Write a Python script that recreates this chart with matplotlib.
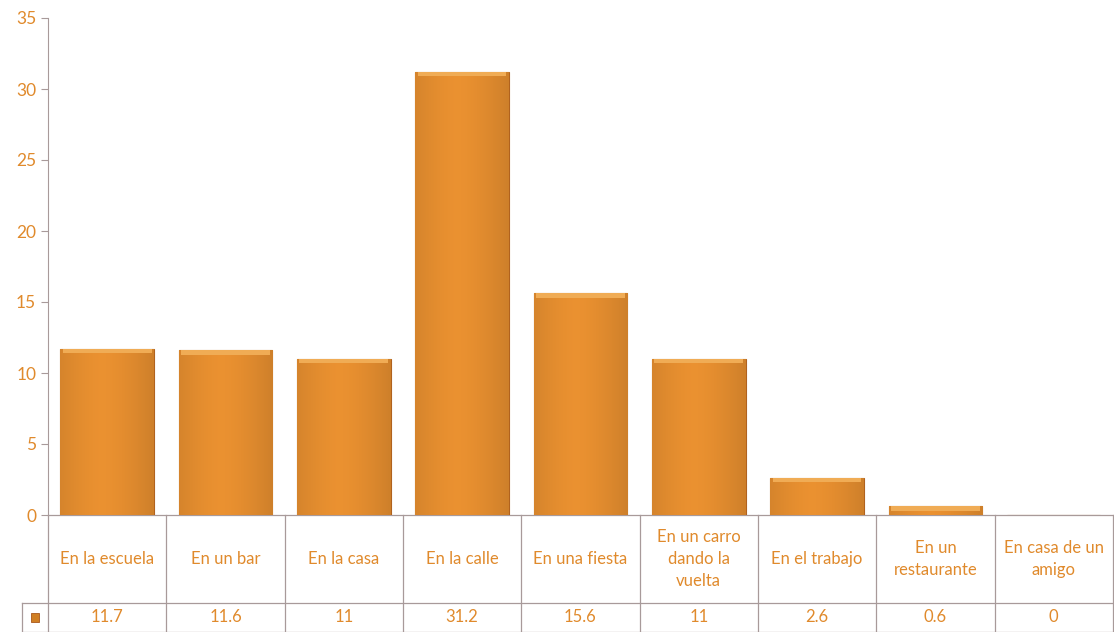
import numpy as np
import matplotlib.pyplot as plt
from matplotlib.patches import Rectangle

categories = ['En la escuela', 'En un bar', 'En la casa', 'En la calle', 'En una fiesta',
              'En un carro\ndando la\nvuelta', 'En el trabajo', 'En un\nrestaurante',
              'En casa de un\namigo']
values = [11.7, 11.6, 11, 31.2, 15.6, 11, 2.6, 0.6, 0]
value_labels = ['11.7', '11.6', '11', '31.2', '15.6', '11', '2.6', '0.6', '0']

txt_color = '#E08A2C'
line_color = '#A89A9A'

plt.rcParams['font.family'] = ['Lato', 'DejaVu Sans']

fig = plt.figure(figsize=(11.14, 6.32), dpi=100)
ax = fig.add_axes([48 / 1114, (632 - 515) / 632, 1 - 48 / 1114 - 0.001, 497 / 632])

x = np.arange(len(values)) + 0.5
bars = ax.bar(x, values, width=0.79, color='#E38B2A', edgecolor='#B0621E', linewidth=0.8, zorder=2)

# horizontal shading on the bars
grad = np.linspace(0, 1, 256)
shade = 1 - 0.3 * np.abs(grad - 0.45) ** 1.5
img = np.zeros((1, 256, 3))
base = np.array([0.92, 0.57, 0.19])
img[0] = base[None, :] * shade[:, None]
for b in bars:
    if b.get_height() <= 0:
        continue
    x0, w, h = b.get_x(), b.get_width(), b.get_height()
    im = ax.imshow(img, extent=[x0, x0 + w, 0, h], aspect='auto', zorder=2.5)
    im.set_clip_path(b)
    # lighter top rim
    ax.add_patch(Rectangle((x0 + 0.02, h - 0.3), w - 0.04, 0.3, color='#F0AC55', zorder=3, lw=0))

ax.set_xlim(0, 9)
ax.set_ylim(0, 35)
ax.set_yticks(range(0, 36, 5))
ax.tick_params(axis='y', colors=line_color, labelcolor=txt_color, labelsize=12.5, length=5, direction='out')
ax.set_xticks([])
for s in ['top', 'right', 'bottom']:
    ax.spines[s].set_visible(False)
ax.spines['left'].set_color(line_color)

# data table
upp = 35 / 497  # data units per pixel
r1 = -88 * upp
r2 = -117 * upp
leg_left = -26 / (1066 / 9)
kw = dict(color=line_color, lw=0.9, clip_on=False, zorder=1)
ax.plot([0, 9], [0, 0], **kw)
ax.plot([leg_left, 9], [r1, r1], **kw)
ax.plot([leg_left, 9], [r2, r2], **kw)
ax.plot([leg_left, leg_left], [r1, r2], **kw)
for i in range(10):
    ax.plot([i, i], [0, r2], **kw)
for i, (c, v) in enumerate(zip(categories, value_labels)):
    ax.text(i + 0.5, r1 / 2, c, ha='center', va='center', color=txt_color, fontsize=12,
            linespacing=1.5, clip_on=False)
    ax.text(i + 0.5, (r1 + r2) / 2, v, ha='center', va='center', color=txt_color, fontsize=12,
            clip_on=False)
ax.add_patch(Rectangle((leg_left / 2 - 0.035, (r1 + r2) / 2 - 0.3), 0.07, 0.6,
                       facecolor='#D07F24', edgecolor='#A8561A', lw=0.6, clip_on=False))

fig.savefig('out.png', dpi=100)
